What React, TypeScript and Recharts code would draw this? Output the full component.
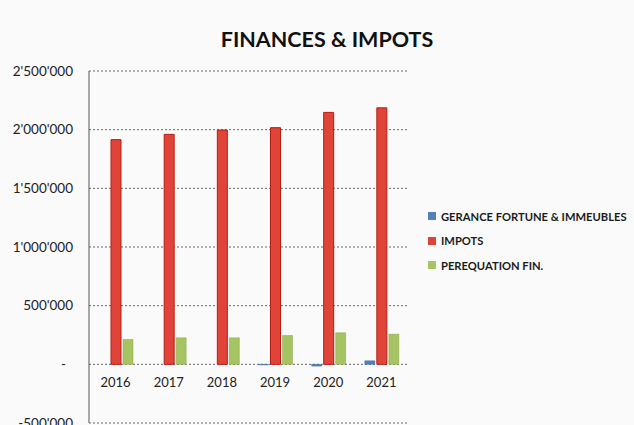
import React from "react";
import { BarChart, Bar, XAxis, YAxis, CartesianGrid, Legend } from "recharts";

// Données
const annees = ["2016", "2017", "2018", "2019", "2020", "2021"];
const gerance = [0, 0, 0, -5000, -15000, 30000];
const impots = [1915000, 1960000, 1997000, 2017000, 2147000, 2186000];
const perequation = [212000, 226000, 226000, 246000, 269000, 257000];
const yTicks = [-500000, 0, 500000, 1000000, 1500000, 2000000, 2500000];

const FONT = "Lato, 'Open Sans', sans-serif";

const data = annees.map((a, i) => ({
  annee: a,
  gerance: gerance[i],
  impots: impots[i],
  perequation: perequation[i],
}));

function formatMontant(v: number): string {
  if (v === 0) return "-\u00A0\u00A0";
  const s = Math.abs(v).toFixed(0).replace(/\B(?=(\d{3})+(?!\d))/g, "'");
  return v < 0 ? "-" + s : s;
}

// étiquettes des années posées juste sous l'axe zéro
function anneeTick(props: any) {
  const { x, y, payload } = props;
  return (
    <text x={x} y={y - 41} textAnchor="middle" dominantBaseline="central"
      fontFamily={FONT} fontSize={13} fill="#222">
      {payload.value}
    </text>
  );
}

function LegendeContent(props: any) {
  const { payload } = props;
  return (
    <div style={{ fontFamily: FONT, fontSize: 11.2, fontWeight: 700, color: "#1a1a1a" }}>
      {payload.map((p: any) => (
        <div key={p.value} style={{ display: "flex", alignItems: "center", height: 24.5 }}>
          <span style={{ display: "inline-block", width: 8, height: 8, background: p.color, marginRight: 5 }} />
          <span>{p.value}</span>
        </div>
      ))}
    </div>
  );
}

export default function App() {
  return (
    <div style={{ position: "absolute", left: 0, top: 0, width: 634, height: 425, background: "#fafafa", overflow: "hidden" }}>
      <div style={{
        position: "absolute", left: 0, width: 654, top: 26, textAlign: "center",
        fontFamily: FONT, fontWeight: 700, fontSize: 21.5, color: "#111",
      }}>
        FINANCES &amp; IMPOTS
      </div>
      <BarChart width={634} height={425} data={data}
        margin={{ top: 71, right: 226, bottom: 0, left: 0 }}
        barSize={10} barGap={2}>
        <CartesianGrid horizontal vertical={false} stroke="#666" strokeDasharray="2 2" />
        <XAxis dataKey="annee" height={2} axisLine={false} tickLine={false}
          tickSize={0} tickMargin={0} tick={anneeTick} interval={0} />
        <YAxis domain={[-500000, 2500000]} ticks={yTicks} width={89}
          tickFormatter={formatMontant} tickLine={false} tickSize={0} tickMargin={16}
          axisLine={{ stroke: "#555", strokeWidth: 1 }}
          tick={{ fontFamily: FONT, fontSize: 13.5, fill: "#222" }} interval={0} />
        <Legend layout="vertical" align="center" verticalAlign="middle"
          wrapperStyle={{ left: 428, top: 204, width: 206 }}
          content={<LegendeContent />} />
        <Bar dataKey="gerance" name="GERANCE FORTUNE & IMMEUBLES" fill="#4f81bd" stroke="#3a6aa3" strokeWidth={0.5} isAnimationActive={false} />
        <Bar dataKey="impots" name="IMPOTS" fill="#e04438" stroke="#b81c14" strokeWidth={1} isAnimationActive={false} />
        <Bar dataKey="perequation" name="PEREQUATION FIN." fill="#a6c461" stroke="#89a845" strokeWidth={0.5} isAnimationActive={false} />
      </BarChart>
    </div>
  );
}
